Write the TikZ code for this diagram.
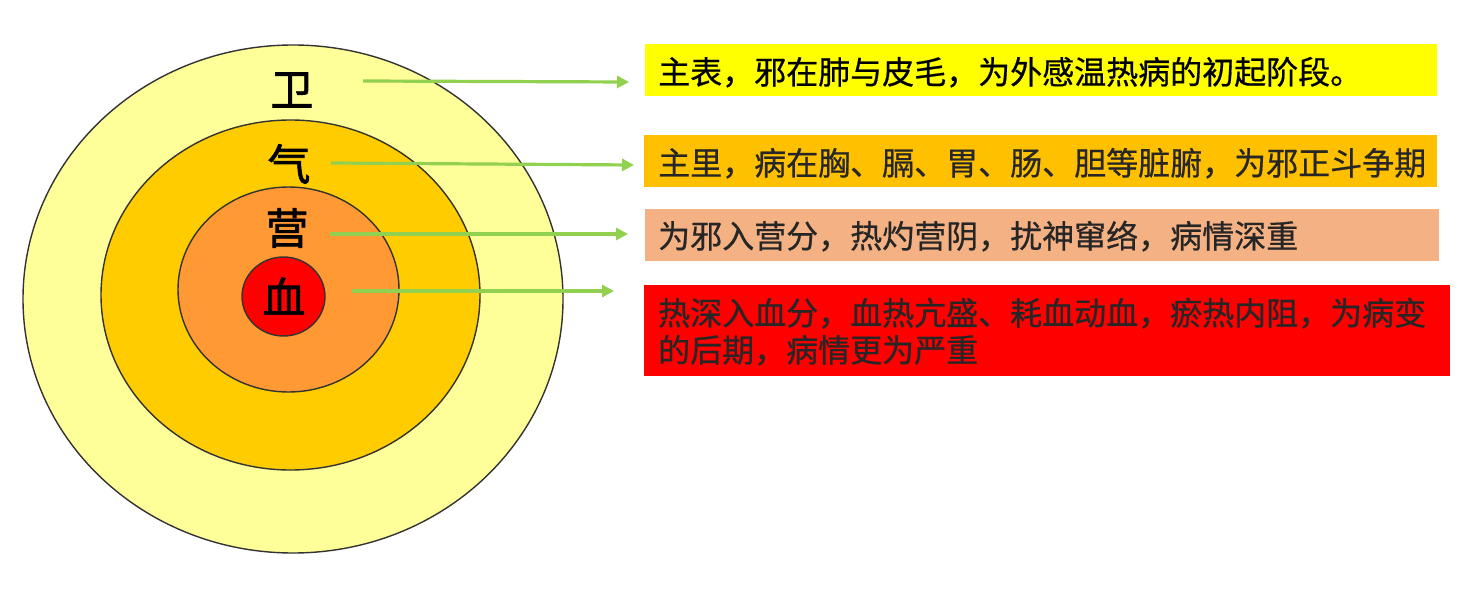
\documentclass[tikz,border=0pt]{standalone}
\usepackage{fontspec}
\newfontfamily\cjk[FakeBold=0.6]{Noto Sans CJK SC}
\newfontfamily\cjklabel[FakeBold=1.6]{Noto Sans CJK SC}
\usetikzlibrary{shapes.geometric,arrows.meta}
\definecolor{weiC}{RGB}{255,255,153}
\definecolor{qiC}{RGB}{255,204,0}
\definecolor{yingC}{RGB}{255,153,51}
\definecolor{xueC}{RGB}{255,0,0}
\definecolor{boxA}{RGB}{255,255,0}
\definecolor{boxB}{RGB}{255,192,0}
\definecolor{boxC}{RGB}{244,177,131}
\definecolor{boxD}{RGB}{255,0,0}
\definecolor{arrowC}{RGB}{146,208,80}
\definecolor{txtC}{RGB}{38,38,38}
\tikzset{
  ring/.style={ellipse, draw=black!80, line width=1.4pt, inner sep=0pt},
  layerlabel/.style={font=\cjklabel\fontsize{43}{46}\selectfont, text=black, inner sep=0pt},
  panel/.style={rectangle, anchor=north west, inner sep=0pt, draw=none},
  paneltext/.style={font=\cjk\fontsize{32}{37}\selectfont, inner sep=0pt, anchor=base west},
  link/.style={draw=arrowC, line width=3.2pt, -{Triangle[length=12pt,width=12pt]}}
}
\begin{document}
\begin{tikzpicture}[x=1pt,y=-1pt]
\useasboundingbox[fill=white] (0,0) rectangle (1472,604);
% concentric layers
\node[ring, fill=weiC, minimum width=540pt, minimum height=508pt] (wei) at (293,299) {};
\node[ring, fill=qiC, minimum width=379pt, minimum height=350pt] (qi) at (290.5,295) {};
\node[ring, fill=yingC, minimum width=221pt, minimum height=205pt] (ying) at (288.5,289.5) {};
\node[ring, fill=xueC, minimum width=83pt, minimum height=79pt] (xue) at (283.5,296.5) {};
% layer labels
\node[layerlabel] (lwei) at (292,90) {卫};
\node[layerlabel] (lqi) at (289,164) {气};
\node[layerlabel] (lying) at (287,228) {营};
\node[layerlabel] (lxue) at (284,296) {血};
% panels
\node[panel, fill=boxA, minimum width=792pt, minimum height=52pt] (b1) at (645,44) {};
\node[panel, fill=boxB, minimum width=793pt, minimum height=52pt] (b2) at (644,135) {};
\node[panel, fill=boxC, minimum width=794pt, minimum height=52pt] (b3) at (645,209) {};
\node[panel, fill=boxD, minimum width=806pt, minimum height=91pt] (b4) at (644,285) {};
% panel texts
\node[paneltext, text=black] (t1) at (658,84) {主表，邪在肺与皮毛，为外感温热病的初起阶段。};
\node[paneltext, text=txtC] (t2) at (658,175) {主里，病在胸、膈、胃、肠、胆等脏腑，为邪正斗争期};
\node[paneltext, text=txtC] (t3) at (658,248) {为邪入营分，热灼营阴，扰神窜络，病情深重};
\node[paneltext, text=txtC] (t4a) at (658,325) {热深入血分，血热亢盛、耗血动血，瘀热内阻，为病变};
\node[paneltext, text=txtC] (t4b) at (658,362) {的后期，病情更为严重};
% connectors
\coordinate (s1) at (363,81);
\coordinate (e1) at (629,82);
\coordinate (s2) at (331,163);
\coordinate (e2) at (634,165);
\coordinate (s3) at (330,234);
\coordinate (e3) at (628,234);
\coordinate (s4) at (352,291);
\coordinate (e4) at (614,291);
\draw[link] (s1) -- (e1);
\draw[link] (s2) -- (e2);
\draw[link] (s3) -- (e3);
\draw[link] (s4) -- (e4);
\end{tikzpicture}
\end{document}
